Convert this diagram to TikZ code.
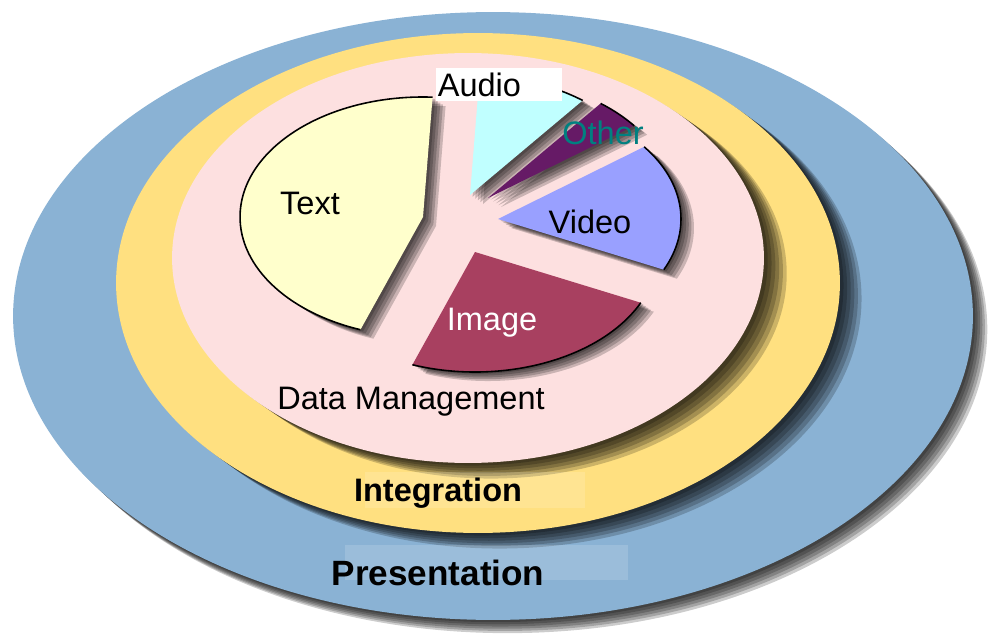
\documentclass[tikz,border=0pt]{standalone}
\usepackage{fontspec}
\setmainfont{Liberation Sans}
\definecolor{cblue}{RGB}{138,178,212}
\definecolor{cyellow}{RGB}{255,224,128}
\definecolor{cpink}{RGB}{253,224,224}
\definecolor{ctext}{RGB}{255,255,204}
\definecolor{caudio}{RGB}{192,255,255}
\definecolor{cother}{RGB}{102,26,102}
\definecolor{cvideo}{RGB}{153,160,255}
\definecolor{cimage}{RGB}{168,64,96}
\definecolor{cteal}{RGB}{0,128,128}
\newcommand\pieslicepath[4]{(#1,#2) -- ++({183*cos(#3)},{-120*sin(#3)}) arc[start angle=#3, end angle=#4, x radius=3.66cm, y radius=2.4cm] -- cycle}
\newcommand\pierim[4]{({#1+183*cos(#3)},{#2-120*sin(#3)}) arc[start angle=#3, end angle=#4, x radius=3.66cm, y radius=2.4cm]}
\begin{document}
\begin{tikzpicture}[x=0.02cm,y=-0.02cm,
  lbl/.style={font=\fontsize{18.5}{20}\selectfont, inner sep=0pt},
  blbl/.style={font=\fontsize{18.5}{20}\selectfont\bfseries, inner sep=0pt},
  shd/.style={fill=black, opacity=0.2},
  rim/.style={draw=black, line width=0.9pt}]
\useasboundingbox (0,0) rectangle (992,639);
% outer ring: Presentation
\foreach \k in {1,...,6}
  \fill[shd, shift={(\k*2.4,\k*2.2)}] (493,316) ellipse [x radius=9.6cm, y radius=6.08cm];
\fill[cblue] (493,316) ellipse [x radius=9.6cm, y radius=6.08cm];
% middle ring: Integration
\foreach \k in {1,...,6}
  \fill[shd, shift={(\k*3.6,\k*2.6)}] (478,283) ellipse [x radius=7.24cm, y radius=5cm];
\fill[cyellow] (478,283) ellipse [x radius=7.24cm, y radius=5cm];
% inner: Data Management
\foreach \k in {1,...,6}
  \fill[shd, shift={(\k*3.8,\k*2.6)}] (468,258) ellipse [x radius=5.92cm, y radius=4.1cm];
\fill[cpink] (468,258) ellipse [x radius=5.92cm, y radius=4.1cm];
% faint highlight patches
\fill[white, opacity=0.15] (365,472) rectangle (585,508);
\fill[white, opacity=0.15] (345,545) rectangle (628,580);
% slice shadows
\foreach \k in {1,...,5} {
  \fill[shd, shift={(\k*2.6,\k*1.8)}] \pieslicepath{423}{217}{87}{250};
  \fill[shd, shift={(\k*2.6,\k*1.8)}] \pieslicepath{475}{252}{250}{335};
  \fill[shd, shift={(\k*2.6,\k*1.8)}] \pieslicepath{498}{219}{335}{397};
  \fill[shd, shift={(\k*2.6,\k*1.8)}] \pieslicepath{488}{198}{397}{412};
  \fill[shd, shift={(\k*2.6,\k*1.8)}] \pieslicepath{470}{195}{412}{447};
}
% slices
\fill[ctext]  \pieslicepath{423}{217}{87}{250};
\fill[cimage] \pieslicepath{475}{252}{250}{335};
\fill[cvideo] \pieslicepath{498}{219}{335}{397};
\fill[cother] \pieslicepath{488}{198}{397}{412};
\fill[caudio] \pieslicepath{470}{195}{412}{447};
\draw[rim] \pierim{423}{217}{87}{250};
\draw[rim] \pierim{475}{252}{250}{335};
\draw[rim] \pierim{498}{219}{335}{397};
\draw[rim] \pierim{488}{198}{397}{412};
\draw[rim] \pierim{470}{195}{412}{447};
% labels
\node[lbl, fill=white, anchor=north west, minimum width=2.52cm, minimum height=0.66cm,
      text width=2.46cm, inner xsep=0.03cm, align=left] (audio) at (436,68) {Audio};
\node[lbl] (text) at (310,203) {Text};
\node[lbl, text=cteal] (other) at (603,133) {Other};
\node[lbl] (video) at (590,222) {Video};
\node[lbl, text=white] (image) at (492,323) {Image};
\node[lbl] (dm) at (411,402) {Data Management};
\node[blbl] (integ) at (438,493) {Integration};
\node[blbl, font=\fontsize{20}{22}\selectfont\bfseries] (pres) at (438,573) {Presentation};
\end{tikzpicture}
\end{document}
